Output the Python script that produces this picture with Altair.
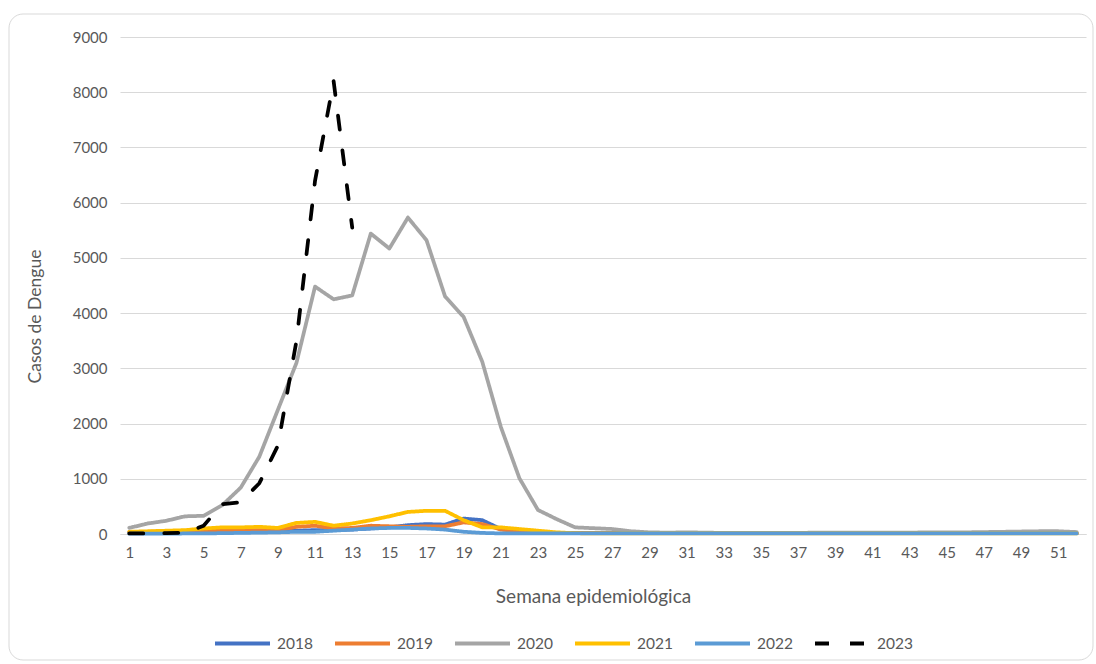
import altair as alt
import pandas as pd

# Epidemiological weeks and weekly dengue cases per year
weeks = list(range(1, 53))
years = ["2018", "2019", "2020", "2021", "2022", "2023"]

cases_2018 = [30, 30, 30, 35, 40, 40, 45, 50, 50, 60,
              70, 70, 80, 100, 120, 160, 180, 170, 280, 250,
              90, 50, 30, 20, 20, 15, 15, 15, 15, 15,
              15, 15, 15, 15, 15, 15, 15, 15, 15, 15,
              15, 15, 15, 15, 15, 15, 15, 15, 15, 15,
              15, 15]
cases_2019 = [40, 40, 45, 50, 60, 60, 70, 70, 70, 130,
              150, 100, 110, 150, 140, 130, 140, 140, 210, 180,
              80, 50, 30, 20, 20, 15, 15, 15, 15, 15,
              15, 15, 15, 15, 15, 15, 15, 15, 15, 15,
              15, 15, 15, 15, 15, 15, 15, 15, 15, 15,
              15, 15]
cases_2020 = [110, 190, 240, 320, 330, 520, 840, 1400, 2250, 3100,
              4480, 4250, 4320, 5440, 5170, 5730, 5320, 4300, 3930, 3120,
              1940, 1010, 435, 270, 120, 105, 90, 50, 30, 25,
              30, 25, 20, 20, 20, 20, 20, 25, 25, 25,
              25, 25, 25, 30, 30, 30, 35, 40, 45, 50,
              50, 35]
cases_2021 = [40, 50, 60, 70, 100, 120, 120, 130, 110, 200,
              220, 150, 190, 250, 320, 400, 420, 420, 250, 120,
              120, 90, 60, 30, 15, 10, 10, 10, 10, 10,
              10, 10, 10, 10, 10, 10, 10, 10, 10, 10,
              10, 10, 10, 10, 10, 10, 10, 10, 10, 10,
              10, 10]
cases_2022 = [5, 5, 5, 10, 10, 15, 20, 25, 30, 40,
              40, 60, 80, 100, 110, 110, 100, 80, 40, 20,
              10, 10, 10, 10, 10, 10, 10, 10, 10, 10,
              10, 10, 10, 10, 10, 10, 10, 10, 10, 10,
              10, 10, 10, 10, 10, 10, 10, 10, 10, 10,
              10, 10]
cases_2023 = [10, 10, 15, 20, 150, 540, 575, 920, 1600, 3500, 6400, 8200, 5550]

series = {
    "2018": cases_2018,
    "2019": cases_2019,
    "2020": cases_2020,
    "2021": cases_2021,
    "2022": cases_2022,
    "2023": cases_2023,
}

line_colors = ["#4472C4", "#ED7D31", "#A5A5A5", "#FFC000", "#5B9BD5", "#000000"]
line_dashes = [[1, 0], [1, 0], [1, 0], [1, 0], [1, 0], [14, 21]]

rows = []
for year, values in series.items():
    for week, value in zip(weeks, values):
        rows.append({"Año": year, "Semana": week, "Casos": value})
df = pd.DataFrame(rows)

TEXT = "#595959"
GRID = "#D9D9D9"
FONT = "Lato"

legend = alt.Legend(
    title=None,
    orient="none",
    legendX=93,
    legendY=577,
    direction="horizontal",
    columns=6,
    symbolType="stroke",
    symbolSize=3025,
    symbolStrokeWidth=4,
    labelFontSize=15.5,
    labelColor=TEXT,
    labelFont=FONT,
    labelOffset=5,
    columnPadding=14,
)

lines = alt.Chart(df).mark_line(
    strokeWidth=3.75, strokeCap="round", strokeJoin="round"
).encode(
    x=alt.X(
        "Semana:Q",
        scale=alt.Scale(domain=[0.5, 52.5], nice=False, zero=False),
        axis=alt.Axis(
            values=list(range(1, 52, 2)),
            title="Semana epidemiológica",
            grid=False,
            ticks=False,
            domainColor=GRID,
            domainWidth=1,
            labelPadding=11,
            titleX=473,
            titleY=62,
            titleBaseline="middle",
            titleFontSize=19,
        ),
    ),
    y=alt.Y(
        "Casos:Q",
        scale=alt.Scale(domain=[0, 9000], nice=False),
        axis=alt.Axis(
            values=list(range(0, 9001, 1000)),
            format="d",
            title="Casos de Dengue",
            grid=True,
            gridColor=GRID,
            gridWidth=1,
            domain=False,
            ticks=False,
            labelPadding=13,
            titleX=-85,
            titleY=279,
            titleBaseline="middle",
            titleFontSize=17.5,
        ),
    ),
    color=alt.Color("Año:N", scale=alt.Scale(domain=years, range=line_colors), legend=legend),
    strokeDash=alt.StrokeDash("Año:N", scale=alt.Scale(domain=years, range=line_dashes), legend=legend),
)

# Rounded outer frame of the chart
frame = alt.Chart(alt.Data(values=[{"k": 1}])).mark_rect(
    fill="white", fillOpacity=0, stroke=GRID, strokeWidth=1, cornerRadius=14
).encode(
    x=alt.value(-111), x2=alt.value(973), y=alt.value(-23), y2=alt.value(623)
)

chart = alt.layer(frame, lines).properties(
    width=966,
    height=497,
    padding={"left": 120, "top": 37, "right": 10, "bottom": 130},
    autosize=alt.AutoSizeParams(type="none"),
).configure(
    background="white"
).configure_view(
    stroke=None
).configure_axis(
    labelFont=FONT,
    titleFont=FONT,
    labelColor=TEXT,
    titleColor=TEXT,
    labelFontSize=15,
    titleFontWeight="normal",
)

chart.save("out.html", embed_options={"renderer": "svg", "actions": False})
